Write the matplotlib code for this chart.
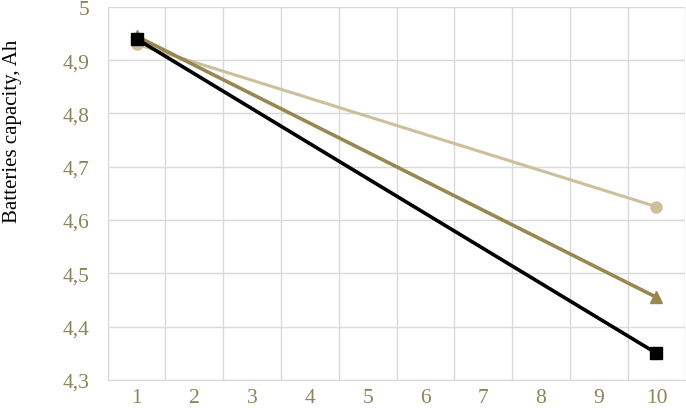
"""Battery capacity vs cycle, recreated from reference."""

from matplotlib import pyplot as plt
from matplotlib.ticker import FuncFormatter

cycles = [1, 10]
light_series = [4.93, 4.625]
olive_series = [4.945, 4.455]
black_series = [4.94, 4.35]
x_labels = list(range(1, 11))
y_ticks = [4.3, 4.4, 4.5, 4.6, 4.7, 4.8, 4.9, 5.0]

plt.rcParams['font.family'] = ['Liberation Serif', 'DejaVu Serif']

fig = plt.figure(figsize=(6.86, 4.14), dpi=100)
ax = fig.add_axes([0.157, 0.080, 0.842, 0.901])

ax.plot(cycles, light_series, color='#CDBF9C', lw=2.2, marker='o', ms=8, zorder=3)
ax.plot(cycles, olive_series, color='#978852', lw=2.6, marker='^', ms=9, zorder=4)
ax.plot(cycles, black_series, color='black', lw=2.6, marker='s', ms=8, zorder=5)

ax.set_xlim(0.5, 10.5)
ax.set_ylim(4.3, 5.0)
ax.set_xticks(x_labels)
ax.set_xticks([i + 0.5 for i in range(0, 11)], minor=True)
ax.set_yticks(y_ticks)
ax.yaxis.set_major_formatter(FuncFormatter(lambda v, p: ('%g' % round(v, 1)).replace('.', ',')))

ax.grid(True, axis='y', which='major', color='#D9D9D9', lw=1)
ax.grid(True, axis='x', which='minor', color='#D9D9D9', lw=1)
ax.tick_params(which='both', length=0)
ax.tick_params(axis='x', pad=6, labelsize=15.5, labelcolor='#8A8457')
ax.tick_params(axis='y', pad=13, labelsize=15.5, labelcolor='#8A8457')
for side in ['top', 'right']:
    ax.spines[side].set_visible(False)
for side in ['left', 'bottom']:
    ax.spines[side].set_color('#D9D9D9')

ax.set_ylabel('Batteries capacity, Ah', fontsize=15)
ax.yaxis.set_label_coords(-0.148, 0.67)

fig.savefig('out.png', dpi=100)
